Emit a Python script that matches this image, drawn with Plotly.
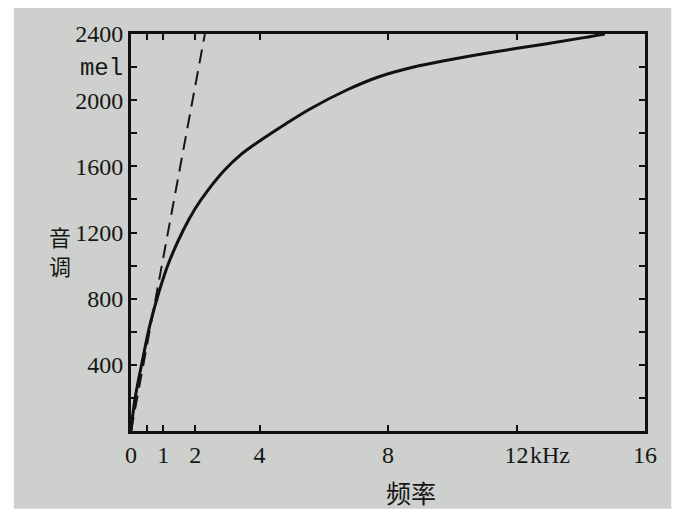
import plotly.graph_objects as go

# Data (frequency in kHz, pitch in mel)
freq_khz = [0, 0.12, 0.38, 0.6, 0.87, 1.16, 1.63, 2.0, 2.38, 2.9, 3.4, 3.9, 4.4, 4.8, 5.6,
            6.7, 7.7, 8.8, 9.8, 11.2, 12.9, 14.1, 14.75]
pitch_mel = [0, 190, 450, 650, 840, 1010, 1215, 1345, 1452, 1575, 1668, 1740, 1805, 1855, 1950,
             2060, 2140, 2200, 2240, 2288, 2340, 2378, 2400]

linear_freq = [0, 2.3]
linear_mel = [0, 2400]

x_tickvals = [0, 0.5, 1, 2, 4, 8, 12, 16]
x_ticktext = ["0", "", "1", "2", "4", "8", "12", "16"]
y_tickvals = [0, 200, 400, 600, 800, 1000, 1200, 1400, 1600, 1800, 2000, 2200, 2400]
y_ticktext = ["", "", "400", "", "800", "", "1200", "", "1600", "", "2000",
              "<span style='font-family:Liberation Mono'>mel</span>", "2400"]

serif = "Liberation Serif, Noto Sans CJK SC"
cjk = "Noto Sans CJK SC"
ink = "#161616"

fig = go.Figure()
fig.add_trace(go.Scatter(x=linear_freq, y=linear_mel, mode="lines",
                         line=dict(color=ink, width=2, dash="14px,8px"),
                         showlegend=False, hoverinfo="skip"))
fig.add_trace(go.Scatter(x=freq_khz, y=pitch_mel, mode="lines",
                         line=dict(color="#111111", width=3, shape="spline", smoothing=1.0),
                         showlegend=False))

axis_common = dict(showgrid=False, zeroline=False, showline=True, linecolor="#111111",
                   linewidth=3, mirror="ticks", ticks="inside", ticklen=6, tickwidth=2,
                   tickcolor="#111111", tickfont=dict(family=serif, size=24, color=ink))

fig.update_xaxes(range=[0, 16], tickmode="array", tickvals=x_tickvals, ticktext=x_ticktext,
                 **axis_common)
fig.update_yaxes(range=[0, 2400], tickmode="array", tickvals=y_tickvals, ticktext=y_ticktext,
                 **axis_common)

fig.add_annotation(x=12, xref="x", y=0, yref="paper", yshift=-9, text="kHz", showarrow=False,
                   xanchor="left", yanchor="top", xshift=11,
                   font=dict(family=serif, size=24, color=ink))
fig.add_annotation(x=-0.138, xref="paper", y=0.49, yref="paper", text="音",
                   xanchor="center", yanchor="middle",
                   showarrow=False, font=dict(family=cjk, size=22, color=ink))
fig.add_annotation(x=-0.138, xref="paper", y=0.417, yref="paper", text="调",
                   xanchor="center", yanchor="middle",
                   showarrow=False, font=dict(family=cjk, size=22, color=ink))
fig.add_annotation(x=0.545, xref="paper", y=-0.154, yref="paper", text="频率",
                   xanchor="center", yanchor="middle",
                   showarrow=False, font=dict(family=cjk, size=25, color=ink))

fig.add_shape(type="rect", xref="paper", yref="paper", x0=-0.228, x1=1.051, y0=-0.196, y1=1.0655,
              fillcolor="#cdd0cc", line=dict(width=0), layer="below")

fig.update_layout(width=689, height=522, margin=dict(l=123, r=52, t=26, b=99),
                  paper_bgcolor="white", plot_bgcolor="rgba(0,0,0,0)")

fig.write_html("out.html")
